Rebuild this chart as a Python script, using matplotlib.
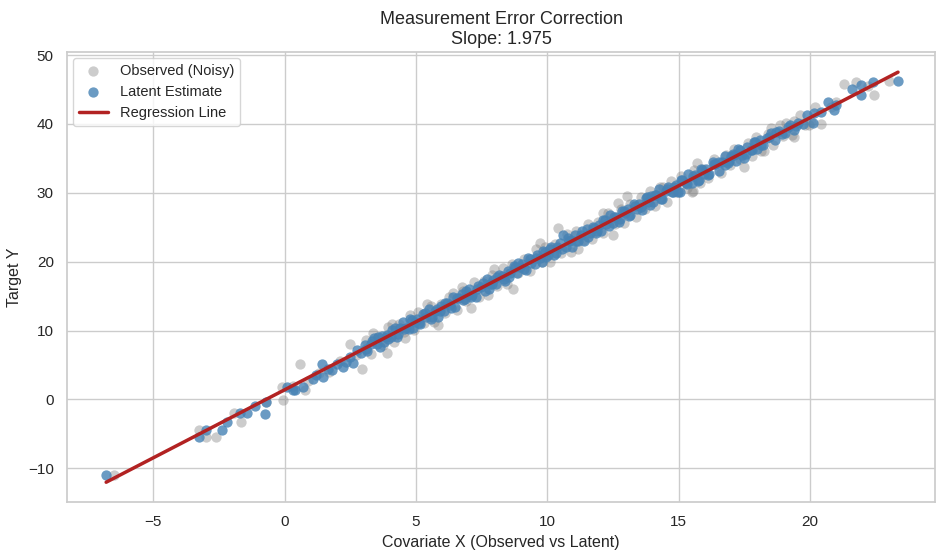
import numpy as np
import matplotlib.pyplot as plt
import seaborn as sns

sns.set_theme(style="whitegrid")
plt.rcParams['font.family'] = ['Liberation Sans', 'DejaVu Sans']

# latent estimates (blue)
latent_x = [
    -6.8, -3.28, -2.98, -2.4, -2.2, -1.7, -1.45, -1.15, -0.75, -0.72,
    0.08, 0.3, 0.4, 0.7, 1.07, 1.2, 1.41, 1.45, 1.65, 1.8, 2.0, 2.2, 2.35, 2.5, 2.6, 2.75, 2.9,
    3.04, 3.15, 3.27, 3.38, 3.5, 3.61, 3.72, 3.85, 3.95,
    4.06, 4.18, 4.26, 4.4, 4.52, 4.63, 4.74, 4.86, 4.97,
    5.03, 5.14, 5.25, 5.39, 5.48, 5.6, 5.73, 5.84, 5.96,
    6.05, 6.16, 6.3, 6.41, 6.5, 6.62, 6.75, 6.86, 6.97,
    7.02, 7.13, 7.27, 7.37, 7.49, 7.61, 7.7, 7.83, 7.94,
    8.04, 8.15, 8.26, 8.38, 8.5, 8.59, 8.72, 8.84, 8.95,
    9.05, 9.17, 9.28, 9.39, 9.51, 9.62, 9.73, 9.85, 9.96,
    10.03, 10.14, 10.27, 10.36, 10.48, 10.6, 10.71, 10.82, 10.95,
    11.06, 11.15, 11.29, 11.4, 11.51, 11.63, 11.72, 11.86, 11.97,
    12.04, 12.18, 12.25, 12.39, 12.5, 12.61, 12.74, 12.85, 12.96,
    13.07, 13.16, 13.28, 13.41, 13.49, 13.62, 13.75, 13.83, 13.95,
    14.03, 14.15, 14.26, 14.38, 14.52, 14.6, 14.73, 14.84, 14.96,
    15.05, 15.14, 15.29, 15.37, 15.5, 15.63, 15.72, 15.85, 15.95,
    16.04, 16.17, 16.3, 16.4, 16.53, 16.64, 16.75, 16.87, 16.98,
    17.06, 17.18, 17.27, 17.42, 17.5, 17.6, 17.74, 17.86, 17.97,
    18.08, 18.21, 18.35, 18.5, 18.66, 18.8, 18.93,
    19.05, 19.22, 19.4, 19.56, 19.72, 19.9,
    20.1, 20.15, 20.4, 20.7, 20.9, 21.0, 21.6, 21.95, 21.95, 22.4, 23.35,
    3.1, 3.33, 3.55, 3.78, 3.9, 4.1, 4.33, 4.55, 4.78, 4.9,
    5.1, 5.33, 5.55, 5.78, 5.9, 6.1, 6.33, 6.55, 6.78, 6.9,
    7.1, 7.33, 7.55, 7.78, 7.9, 8.1, 8.33, 8.55, 8.78, 8.9,
    9.1, 9.33, 9.55, 9.78, 9.9, 10.1, 10.33, 10.55, 10.78, 10.9,
    11.1, 11.33, 11.55, 11.78, 11.9, 12.1, 12.33, 12.55, 12.78, 12.9,
    13.1, 13.33, 13.55, 13.78, 13.9, 14.1, 14.33, 14.55, 14.78, 14.9,
    15.1, 15.33, 15.55, 15.78, 15.9, 16.1, 16.33, 16.55, 16.78, 16.9,
    17.1, 17.33, 17.55, 17.78, 17.9, 18.15, 18.42, 18.72, 19.15, 19.48,
]
latent_y = [
    -11.0, -5.5, -4.5, -4.4, -3.3, -2.0, -2.0, -1.0, -2.1, -0.4,
    1.8, 1.3, 1.3, 1.8, 3.0, 3.6, 5.2, 3.2, 4.4, 4.2, 5.1, 4.7, 5.4, 6.2, 5.3, 7.1, 6.8,
    7.9, 7.0, 8.1, 8.9, 8.0, 7.6, 9.2, 9.0, 8.7,
    9.0, 10.4, 9.0, 10.4, 11.2, 10.3, 10.2, 11.5, 11.3,
    11.6, 10.9, 12.4, 11.9, 13.1, 12.0, 12.8, 12.0, 13.6,
    12.8, 14.0, 13.7, 14.9, 13.4, 14.7, 15.3, 14.6, 15.1,
    16.0, 15.2, 14.9, 16.5, 16.3, 15.8, 17.5, 16.7, 17.4,
    16.8, 18.1, 17.9, 17.2, 18.6, 18.3, 19.4, 18.3, 19.2,
    19.7, 18.8, 20.6, 19.8, 19.6, 20.9, 20.6, 21.6, 20.7,
    20.9, 22.2, 21.0, 22.2, 22.7, 23.9, 22.1, 23.0, 22.2,
    23.9, 23.0, 23.8, 23.0, 24.8, 24.2, 25.0, 24.1, 25.3,
    24.4, 26.0, 25.5, 26.8, 25.6, 26.5, 25.7, 27.4, 27.0,
    27.6, 26.8, 28.4, 27.6, 28.3, 27.5, 29.2, 28.6, 29.5,
    28.6, 29.7, 30.5, 29.1, 30.2, 30.8, 30.1, 30.9, 30.1,
    30.1, 31.8, 31.4, 32.8, 31.4, 32.6, 31.7, 33.4, 32.8,
    33.4, 32.8, 34.4, 34.2, 33.2, 34.4, 35.4, 34.3, 35.4,
    35.6, 34.6, 36.4, 35.5, 35.0, 36.6, 36.2, 37.4, 36.4,
    37.7, 37.0, 37.9, 38.7, 37.6, 39.0, 38.6,
    38.7, 39.9, 39.1, 40.2, 40.0, 41.3,
    40.1, 41.6, 41.8, 43.2, 42.0, 42.7, 45.0, 45.6, 44.2, 46.1, 46.2,
    7.3, 8.5, 9.1, 8.3, 9.4, 10.1, 9.5, 10.2, 11.6, 10.4,
    11.1, 12.5, 11.6, 13.1, 12.8, 14.0, 13.3, 14.7, 14.5, 15.7,
    14.9, 16.1, 16.9, 16.1, 16.8, 17.7, 17.5, 17.7, 19.2, 19.8,
    18.9, 20.4, 20.5, 20.0, 21.4, 21.9, 21.3, 21.9, 23.4, 23.1,
    23.0, 24.4, 23.6, 24.9, 24.4, 26.0, 25.2, 26.5, 26.2, 27.4,
    26.7, 28.1, 27.9, 29.4, 28.2, 29.7, 29.1, 30.6, 30.1, 31.1,
    31.8, 31.3, 32.4, 31.9, 33.3, 32.6, 34.2, 34.5, 34.0, 34.6,
    35.5, 36.2, 35.6, 36.2, 37.4, 36.9, 38.1, 38.8, 39.5, 39.7,
]

# observed noisy values (gray)
obs_x = [
    -6.5, -3.25, -3.0, -2.6, -1.95, -1.65, -0.7, -0.1, -0.05,
    0.3, 0.57, 0.76, 0.9, 1.3, 1.7, 2.1, 2.48, 2.7, 2.95,
    3.1, 3.3, 3.35, 3.55, 3.75, 3.9, 3.92,
    4.1, 4.15, 4.35, 4.55, 4.58, 4.78, 4.92,
    5.08, 5.3, 5.4, 5.55, 5.7, 5.85, 5.95,
    6.1, 6.25, 6.4, 6.55, 6.75, 6.8, 6.9,
    7.1, 7.2, 7.4, 7.58, 7.75, 7.9, 7.95,
    8.1, 8.3, 8.45, 8.65, 8.7, 8.88,
    9.12, 9.35, 9.55, 9.7, 9.78, 9.9,
    10.1, 10.3, 10.4, 10.52, 10.75, 10.9,
    11.08, 11.15, 11.35, 11.55, 11.7, 11.92,
    12.1, 12.12, 12.3, 12.5, 12.58, 12.7, 12.8, 12.92,
    13.05, 13.15, 13.38, 13.55, 13.7, 13.9,
    14.1, 14.3, 14.4, 14.55, 14.7, 14.9,
    15.1, 15.3, 15.5, 15.55, 15.6, 15.7, 15.8, 15.92,
    16.12, 16.35, 16.6, 16.8, 16.95,
    17.1, 17.35, 17.5, 17.65, 17.8, 17.95,
    18.15, 18.25, 18.4, 18.5, 18.6, 18.85, 18.98,
    19.1, 19.3, 19.4, 19.4, 19.6, 19.8, 19.95,
    20.05, 20.2, 20.4, 20.8, 21.0, 21.3, 21.75, 22.2, 22.45, 23.0,
]
obs_y = [
    -11.0, -4.4, -5.5, -5.4, -2.0, -3.3, -0.4, 1.8, -0.1,
    2.0, 5.1, 1.3, 2.6, 3.9, 4.0, 5.6, 8.0, 6.5, 4.4,
    8.6, 6.6, 9.7, 9.1, 7.9, 6.8, 10.5,
    11.0, 8.4, 11.0, 9.8, 8.9, 12.3, 10.1,
    12.7, 11.1, 13.9, 13.5, 11.3, 10.8, 13.8,
    12.5, 14.9, 15.4, 13.0, 16.3, 15.7, 14.3,
    13.2, 17.0, 14.9, 17.2, 15.2, 18.0, 19.0,
    16.5, 19.1, 16.7, 19.6, 16.1, 18.3,
    20.4, 18.7, 21.8, 22.7, 19.9, 22.2,
    20.0, 22.6, 24.9, 21.2, 24.0, 21.4,
    24.5, 21.8, 23.1, 25.5, 23.3, 25.7,
    27.0, 24.2, 27.1, 23.8, 25.4, 28.5, 27.7, 25.6,
    29.6, 28.3, 26.5, 29.4, 27.7, 30.3,
    28.1, 30.8, 30.8, 28.7, 31.7, 30.1,
    32.5, 30.7, 30.1, 30.2, 33.3, 34.3, 31.4, 33.5,
    32.2, 34.9, 32.9, 35.5, 34.1,
    36.3, 34.9, 33.7, 37.2, 35.3, 38.1,
    36.1, 36.0, 38.5, 39.4, 37.0, 39.9, 38.3,
    40.1, 38.4, 38.1, 40.4, 41.3, 39.8, 39.8,
    40.3, 42.4, 40.0, 42.5, 43.2, 45.8, 46.1, 45.5, 44.2, 46.2,
]

slope = 1.975
intercept = 1.4

fig = plt.figure(figsize=(9.44, 5.6), dpi=100)
ax = fig.add_axes([0.071, 0.1036, 0.9195, 0.8036])

ax.scatter(obs_x, obs_y, s=55, color="gray", alpha=0.4, linewidths=0, label="Observed (Noisy)")
ax.scatter(latent_x, latent_y, s=55, color="steelblue", alpha=0.8, linewidths=0, label="Latent Estimate")

lx = np.array([min(latent_x), max(latent_x)])
ax.plot(lx, slope * lx + intercept, color="firebrick", linewidth=2.5, label="Regression Line")

ax.set_xlim(-8.29, 24.76)
ax.set_ylim(-14.9, 50.45)
ax.set_xlabel("Covariate X (Observed vs Latent)", fontsize=11.5)
ax.set_ylabel("Target Y", fontsize=11.5)
ax.set_title(f"Measurement Error Correction\nSlope: {slope:.3f}", fontsize=13)
ax.legend(loc="upper left", fontsize=10.5, borderaxespad=0.4)

plt.savefig("out.png", dpi=100)
